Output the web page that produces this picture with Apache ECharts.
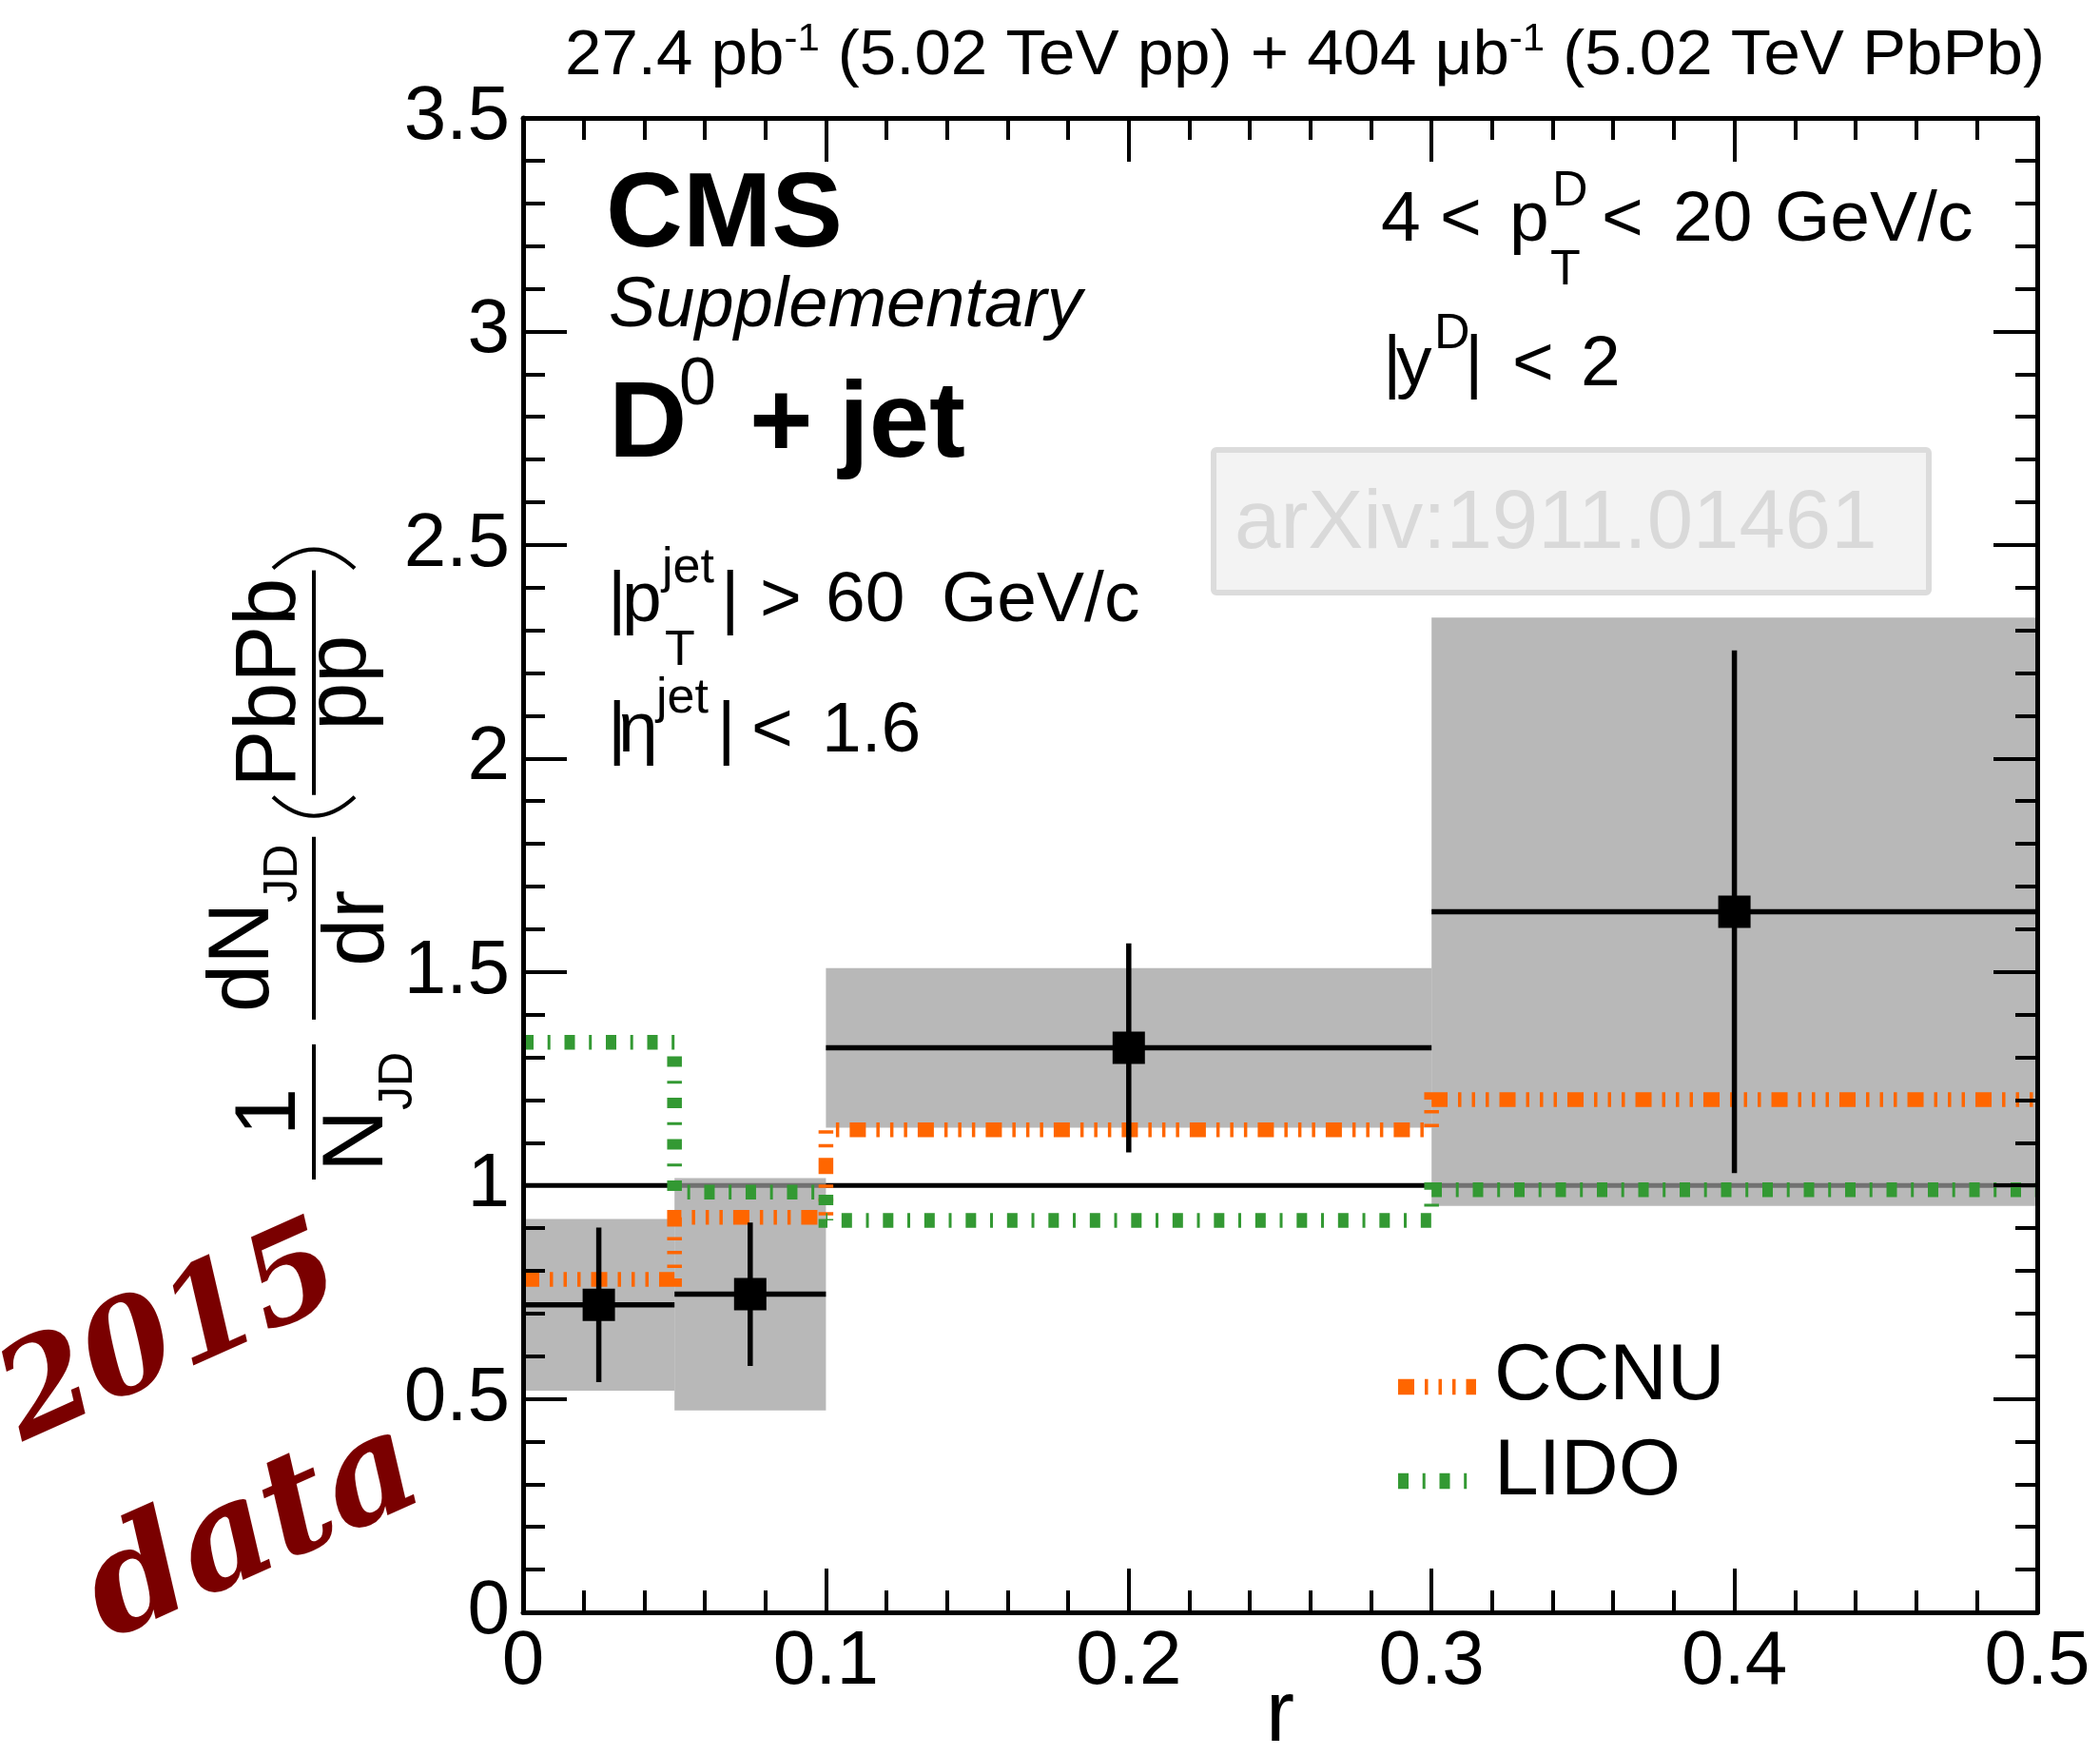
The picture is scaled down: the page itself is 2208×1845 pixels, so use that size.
<!DOCTYPE html>
<html>
<head>
<meta charset="utf-8">
<script src="https://cdn.jsdelivr.net/npm/echarts@6/dist/echarts.min.js"></script>
<style>
  html, body { margin: 0; padding: 0; background: #ffffff; }
  #chart { width: 2208px; height: 1845px; }
</style>
</head>
<body>
<div id="chart"></div>
<script>
// ---- data: D0-jet radial profile, PbPb / pp ratio ----
const binEdges    = [0, 0.05, 0.1, 0.3, 0.5];
const binCenters  = [0.025, 0.075, 0.2, 0.4];
const ratioValues = [0.720, 0.745, 1.322, 1.641];
const statErrors  = [0.181, 0.168, 0.245, 0.612];
const systErrors  = [0.201, 0.272, 0.187, 0.689];

// model predictions (per bin)
const ccnuValues = [0.780, 0.925, 1.130, 1.201];
const lidoValues = [1.335, 0.984, 0.918, 0.990];

const modelNames = ['CCNU', 'LIDO'];
const unityLevel = 1;

// axis ranges and tick spacing
const xRange = [0, 0.5];
const xStep = 0.1;
const yRange = [0, 3.5];
const yStep = 0.5;

// ---- styling helpers ----
const FONT = '"Liberation Sans", Arial, Helvetica, sans-serif';
const measureCtx = document.createElement('canvas').getContext('2d');
function fontOf(size, weight, style, family) {
  return (style || 'normal') + ' ' + (weight || 'normal') + ' ' + size + 'px ' + (family || FONT);
}
function textWidth(str, font) {
  measureCtx.font = font;
  return measureCtx.measureText(str).width;
}
// text placed by its left (or aligned) edge and its alphabetic baseline
function textAt(str, x, base, size, opt) {
  opt = opt || {};
  const align = opt.align || 'left';
  const el = {
    type: 'text', x: x, y: base - 0.3465 * size, silent: true, z: 20,
    style: {
      text: str,
      font: fontOf(size, opt.weight, opt.style, opt.family),
      fill: opt.color || '#000000',
      textAlign: align, align: align,
      textVerticalAlign: 'middle', verticalAlign: 'middle'
    }
  };
  if (opt.scaleX) { el.scaleX = opt.scaleX; }
  return el;
}

// histogram outline points for a step line
function histPoints(vals) {
  return binEdges.map((e, i) => [e, vals[Math.min(i, vals.length - 1)]]);
}

const CCNU_DASH = [17, 11, 3.5, 11, 3.5, 11, 3.5, 11];
const LIDO_DASH = [11, 14.7, 3, 14.8];
const CCNU_COLOR = '#ff6600';
const LIDO_COLOR = '#339933';

// ---- annotations ----
const annotations = [];

// luminosity header, right-aligned with the frame
(function () {
  const frags = [
    ['27.4 pb', 66, 0], ['-1', 40, -27], [' (5.02 TeV pp) + 404 ', 66, 0],
    ['\u03bcb', 66, 0], ['-1', 40, -27], [' (5.02 TeV PbPb)', 66, 0]
  ];
  const total = frags.reduce((s, f) => s + textWidth(f[0], fontOf(f[1])), 0);
  const sx = 1556 / total;
  let x = 2150 - total * sx;
  frags.forEach(f => {
    annotations.push(textAt(f[0], x, 83 + f[2], f[1], { scaleX: sx }));
    x += textWidth(f[0], fontOf(f[1])) * sx;
  });
})();

// experiment label
annotations.push(textAt('CMS', 637, 267, 112, { weight: 'bold' }));
annotations.push(textAt('Supplementary', 640, 348, 74, { style: 'italic' }));
annotations.push(textAt('D', 640, 488, 114, { weight: 'bold' }));
annotations.push(textAt('0', 714, 430, 70));
annotations.push(textAt('+', 788, 488, 114, { weight: 'bold' }));
annotations.push(textAt('jet', 882, 488, 114, { weight: 'bold' }));

const TS = 75, SS = 52;   // annotation text size, script size

// jet selection
annotations.push(textAt('|', 639, 658, TS));
annotations.push(textAt('p', 654, 658, TS));
annotations.push(textAt('jet', 696, 616, SS));
annotations.push(textAt('T', 699, 703, SS));
annotations.push(textAt('|', 758, 658, TS));
annotations.push(textAt('>', 799, 658, TS));
annotations.push(textAt('60', 868, 658, TS));
annotations.push(textAt('GeV/c', 990, 658, TS));

annotations.push(textAt('|', 639, 795, TS));
annotations.push(textAt('\u03b7', 650, 795, TS));
annotations.push(textAt('jet', 690, 753, SS));
annotations.push(textAt('|', 754, 795, TS));
annotations.push(textAt('<', 790, 795, TS));
annotations.push(textAt('1.6', 864, 795, TS));

// D meson selection
annotations.push(textAt('4', 1452, 258, TS));
annotations.push(textAt('<', 1514, 258, TS));
annotations.push(textAt('p', 1587, 258, TS));
annotations.push(textAt('D', 1632, 220, SS));
annotations.push(textAt('T', 1630, 303, SS));
annotations.push(textAt('<', 1684, 258, TS));
annotations.push(textAt('20', 1759, 258, TS));
annotations.push(textAt('GeV/c', 1866, 258, TS));

annotations.push(textAt('|', 1454, 410, TS));
annotations.push(textAt('y', 1468, 410, TS));
annotations.push(textAt('D', 1508, 370, SS));
annotations.push(textAt('|', 1540, 410, TS));
annotations.push(textAt('<', 1590, 410, TS));
annotations.push(textAt('2', 1662, 410, TS));

// arXiv stamp
annotations.push({
  type: 'rect', silent: true, z: 15,
  shape: { x: 1276, y: 473, width: 752, height: 150, r: 3 },
  style: { fill: '#f3f3f3', stroke: '#dcdcdc', lineWidth: 6 }
});
annotations.push(textAt('arXiv:1911.01461', 1298, 582, 87, { color: '#d9d9d9' }));

// legend
annotations.push({
  type: 'line', silent: true, z: 20,
  shape: { x1: 1470, y1: 1458, x2: 1552, y2: 1458 },
  style: { stroke: CCNU_COLOR, lineWidth: 16.5, lineDash: CCNU_DASH, lineCap: 'butt' }
});
annotations.push({
  type: 'line', silent: true, z: 20,
  shape: { x1: 1470, y1: 1557, x2: 1543, y2: 1557 },
  style: { stroke: LIDO_COLOR, lineWidth: 16.5, lineDash: LIDO_DASH, lineCap: 'butt' }
});
annotations.push(textAt(modelNames[0], 1571, 1477, 84));
annotations.push(textAt(modelNames[1], 1571, 1577, 84));

// handwritten dataset tag
annotations.push({
  type: 'text', x: 181, y: 1407, rotation: 0.42, silent: true, z: 20,
  style: { text: '2015', font: 'italic bold 135px "DejaVu Serif"', fill: '#7a0000',
           textAlign: 'center', align: 'center', textVerticalAlign: 'middle', verticalAlign: 'middle' }
});
annotations.push({
  type: 'text', x: 267, y: 1613, rotation: 0.42, silent: true, z: 20,
  style: { text: 'data', font: 'italic bold 150px "DejaVu Serif"', fill: '#7a0000',
           textAlign: 'center', align: 'center', textVerticalAlign: 'middle', verticalAlign: 'middle' }
});

// ---- y-axis title: 1/N_JD dN_JD/dr (PbPb/pp), built in a rotated frame ----
function buildYTitle() {
  const MAIN = 90, SUB = 50, PAD = 8, SUBDROP = 28;
  const els = [];
  let x = 0;
  function w(frags) { return frags.reduce((s, f) => s + textWidth(f[0], fontOf(f[1])), 0); }
  function put(frags, x0, base) {
    let xx = x0;
    frags.forEach(f => {
      els.push(textAt(f[0], xx, base + (f[2] || 0), f[1]));
      xx += textWidth(f[0], fontOf(f[1]));
    });
  }
  function frac(num, numBase, den, denBase) {
    const wn = w(num), wd = w(den);
    const width = Math.max(wn, wd) + 2 * PAD;
    put(num, x + (width - wn) / 2, numBase);
    put(den, x + (width - wd) / 2, denBase);
    els.push({ type: 'line', silent: true, shape: { x1: x, y1: 0, x2: x + width, y2: 0 },
               style: { stroke: '#000', lineWidth: 4 } });
    x += width;
  }
  function paren(open) {
    const b = 20, h = 43;
    const shape = open
      ? { x1: x + b + 2, y1: -h, x2: x + b + 2, y2: h, cpx1: x - b + 2, cpy1: 0 }
      : { x1: x + 2, y1: -h, x2: x + 2, y2: h, cpx1: x + 2 * b + 2, cpy1: 0 };
    els.push({ type: 'bezierCurve', silent: true, shape: shape,
               style: { stroke: '#000', lineWidth: 4, fill: null } });
    x += b + 4;
  }
  const capTop = 14;
  frac([['1', MAIN]], -14,
       [['N', MAIN], ['JD', SUB, SUBDROP]], capTop + 0.716 * MAIN);
  x += 26;
  frac([['dN', MAIN], ['JD', SUB, SUBDROP]], -14 - SUBDROP,
       [['dr', MAIN]], capTop + 0.729 * MAIN);
  x += 20;
  paren(true);
  frac([['PbPb', MAIN]], -14,
       [['pp', MAIN]], capTop + 0.519 * MAIN);
  paren(false);
  return { type: 'group', x: 330, y: 1240, rotation: Math.PI / 2, silent: true, z: 20, children: els };
}
annotations.push(buildYTitle());

// ---- axes ----
const axisBase = {
  type: 'value',
  z: 10,
  axisLine: { show: true, onZero: false, lineStyle: { color: '#000', width: 5 } },
  axisTick: { show: true, inside: true, length: 46, lineStyle: { color: '#000', width: 4 } },
  minorTick: { show: true, splitNumber: 5, length: 23, lineStyle: { color: '#000', width: 4 } },
  splitLine: { show: false },
  minorSplitLine: { show: false }
};
const labelStyle = { fontSize: 80, fontFamily: FONT, color: '#000' };

const option = {
  animation: false,
  backgroundColor: '#ffffff',
  grid: { left: 550, top: 124, width: 1592, height: 1571, containLabel: false, outerBoundsMode: 'none' },
  xAxis: [
    Object.assign({}, axisBase, {
      position: 'bottom', min: xRange[0], max: xRange[1], interval: xStep,
      axisLabel: Object.assign({ show: true, margin: 13 }, labelStyle),
      name: 'r', nameLocation: 'middle', nameGap: 65, nameMoveOverlap: false,
      nameTextStyle: { fontSize: 90, fontFamily: FONT, color: '#000' }
    }),
    Object.assign({}, axisBase, {
      position: 'top', min: xRange[0], max: xRange[1], interval: xStep,
      axisLabel: { show: false }
    })
  ],
  yAxis: [
    Object.assign({}, axisBase, {
      position: 'left', min: yRange[0], max: yRange[1], interval: yStep,
      axisLabel: Object.assign({ show: true, margin: 14 }, labelStyle)
    }),
    Object.assign({}, axisBase, {
      position: 'right', min: yRange[0], max: yRange[1], interval: yStep,
      axisLabel: { show: false }
    })
  ],
  series: [
    {
      name: 'unity', type: 'line', z: 1, silent: true,
      data: xRange.map(x => [x, unityLevel]),
      symbol: 'none', lineStyle: { color: '#000', width: 5 }
    },
    {
      name: 'syst', type: 'custom', z: 2, silent: true,
      data: binCenters.map((c, i) => [binEdges[i], binEdges[i + 1], ratioValues[i], systErrors[i]]),
      encode: { x: [0, 1], y: 2 },
      renderItem: function (params, api) {
        const p1 = api.coord([api.value(0), api.value(2) + api.value(3)]);
        const p2 = api.coord([api.value(1), api.value(2) - api.value(3)]);
        return {
          type: 'rect',
          shape: { x: p1[0], y: p1[1], width: p2[0] - p1[0], height: p2[1] - p1[1] },
          style: { fill: 'rgba(156,156,156,0.72)' }
        };
      }
    },
    {
      name: modelNames[0], type: 'line', z: 3, silent: true, step: 'end',
      data: histPoints(ccnuValues), symbol: 'none',
      lineStyle: { color: CCNU_COLOR, width: 15.5, type: CCNU_DASH, cap: 'butt', join: 'miter' }
    },
    {
      name: modelNames[1], type: 'line', z: 3, silent: true, step: 'end',
      data: histPoints(lidoValues), symbol: 'none',
      lineStyle: { color: LIDO_COLOR, width: 15.5, type: LIDO_DASH, cap: 'butt', join: 'miter' }
    },
    {
      name: 'stat', type: 'custom', z: 4, silent: true,
      data: binCenters.map((c, i) => [c, ratioValues[i], statErrors[i], binEdges[i], binEdges[i + 1]]),
      encode: { x: 0, y: 1 },
      renderItem: function (params, api) {
        const c = api.value(0), v = api.value(1), e = api.value(2);
        const top = api.coord([c, v + e]), bot = api.coord([c, v - e]);
        const left = api.coord([api.value(3), v]), right = api.coord([api.value(4), v]);
        const st = { stroke: '#000', lineWidth: 5.5 };
        return {
          type: 'group',
          children: [
            { type: 'line', shape: { x1: top[0], y1: top[1], x2: bot[0], y2: bot[1] }, style: st },
            { type: 'line', shape: { x1: left[0], y1: left[1], x2: right[0], y2: right[1] }, style: st }
          ]
        };
      }
    },
    {
      name: 'data', type: 'scatter', z: 5, silent: true,
      data: binCenters.map((c, i) => [c, ratioValues[i]]),
      symbol: 'rect', symbolSize: 34, itemStyle: { color: '#000', opacity: 1 }
    }
  ],
  graphic: { elements: annotations }
};

const chart = echarts.init(document.getElementById('chart'), null, { renderer: 'canvas', width: 2208, height: 1845 });
chart.setOption(option);
</script>
</body>
</html>
